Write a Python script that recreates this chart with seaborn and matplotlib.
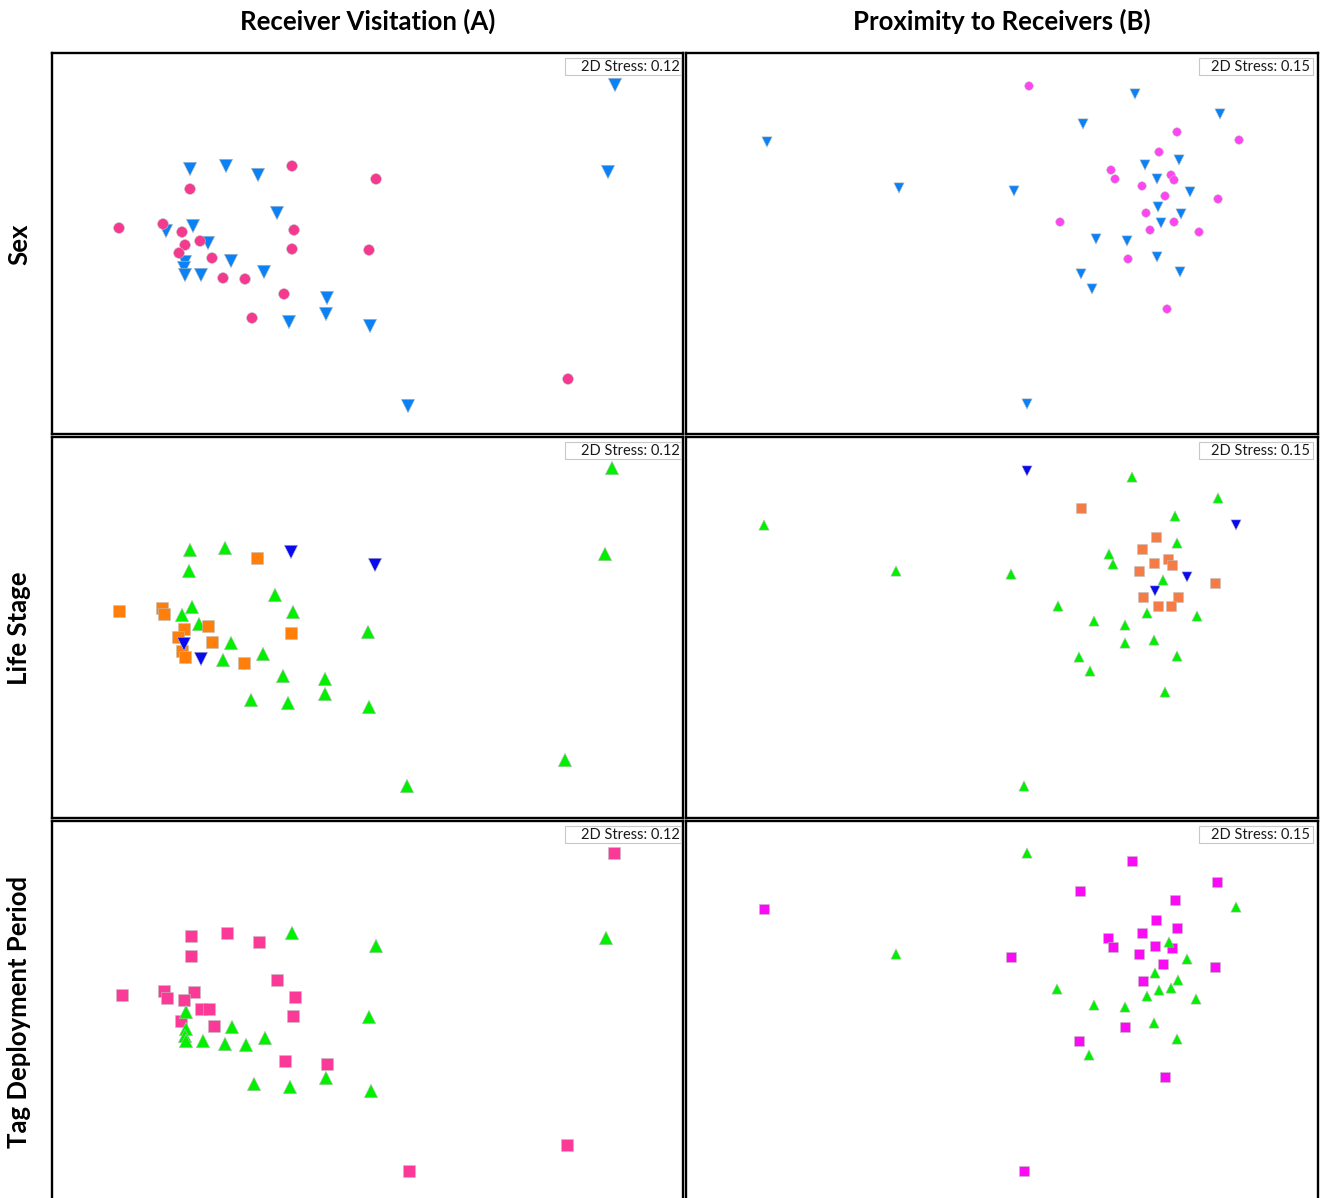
import numpy as np
import pandas as pd
import matplotlib
matplotlib.use("Agg")
import matplotlib.pyplot as plt
import seaborn as sns
from matplotlib.patches import Rectangle

# ---------------- data (nMDS ordination coordinates) ----------------
# Sex - Receiver Visitation (A)
male_A_x = [563, 556, 138, 174, 206, 225, 114, 141, 156, 179, 133, 132, 133, 149, 212, 275, 274, 237, 318, 356]
male_A_y = [32, 119, 116, 113, 122, 160, 178, 173, 190, 208, 209, 215, 222, 222, 219, 245, 261, 269, 273, 353]
female_A_x = [240, 324, 138, 67, 111, 130, 148, 133, 127, 242, 240, 317, 160, 171, 193, 232, 200, 516]
female_A_y = [113, 126, 136, 175, 171, 179, 188, 192, 200, 177, 196, 197, 205, 225, 226, 241, 265, 326]

# Sex - Proximity to Receivers (B)
male_B_x = [81, 213, 328, 397, 449, 534, 459, 493, 471, 504, 472, 495, 475, 410, 441, 471, 395, 494, 406, 341]
male_B_y = [89, 135, 138, 71, 41, 61, 112, 107, 126, 139, 154, 161, 170, 186, 188, 204, 221, 219, 236, 351]
female_B_x = [343, 491, 553, 473, 425, 429, 485, 488, 456, 479, 532, 460, 488, 464, 374, 513, 442, 481]
female_B_y = [33, 79, 87, 99, 117, 126, 122, 127, 133, 143, 146, 160, 169, 177, 169, 179, 206, 256]

# Life Stage - A
adult_A_x = [560, 553, 138, 173, 137, 223, 140, 130, 241, 147, 316, 179, 211, 171, 231, 273, 273, 199, 236, 317, 513, 355]
adult_A_y = [31, 117, 113, 111, 134, 158, 170, 178, 175, 187, 195, 206, 217, 223, 239, 242, 257, 263, 266, 270, 323, 349]
subadult_A_x = [205, 67, 110, 112, 156, 132, 126, 239, 160, 130, 133, 192]
subadult_A_y = [121, 174, 171, 177, 189, 192, 200, 196, 205, 214, 220, 226]
juvenile_A_x = [239, 323, 132, 149]
juvenile_A_y = [115, 128, 207, 222]

# Life Stage - B
adult_B_x = [78, 210, 325, 446, 532, 489, 491, 423, 427, 477, 372, 461, 511, 408, 439, 468, 439, 393, 491, 404, 479, 338]
adult_B_y = [88, 134, 137, 40, 61, 79, 106, 117, 127, 143, 169, 176, 179, 184, 188, 203, 206, 220, 219, 234, 255, 349]
subadult_B_x = [395, 470, 456, 468, 482, 486, 453, 529, 457, 492, 472, 485]
subadult_B_y = [71, 100, 112, 126, 122, 128, 134, 146, 160, 160, 169, 169]
juvenile_B_x = [341, 550, 501, 469]
juvenile_B_y = [34, 88, 140, 154]

# Tag Deployment Period - A
period1_A_x = [562, 139, 175, 207, 139, 225, 70, 112, 115, 142, 132, 243, 149, 157, 241, 129, 162, 233, 275, 515, 357]
period1_A_y = [32, 115, 112, 121, 135, 159, 174, 170, 177, 171, 179, 176, 188, 188, 195, 200, 205, 240, 243, 324, 350]
period2_A_x = [554, 240, 324, 317, 134, 134, 133, 134, 151, 180, 173, 194, 213, 274, 202, 238, 319]
period2_A_y = [117, 112, 125, 196, 191, 208, 215, 220, 220, 206, 223, 224, 217, 257, 263, 266, 270]

# Tag Deployment Period - B
period1_B_x = [78, 325, 394, 446, 531, 489, 470, 491, 456, 422, 427, 469, 486, 453, 477, 529, 457, 439, 393, 479, 338]
period1_B_y = [88, 136, 70, 40, 61, 79, 99, 107, 112, 117, 126, 125, 127, 133, 143, 146, 160, 206, 220, 256, 350]
period2_B_x = [341, 210, 550, 483, 501, 469, 492, 473, 485, 461, 510, 371, 408, 439, 468, 491, 403]
period2_B_y = [32, 133, 86, 121, 138, 152, 159, 169, 167, 175, 178, 168, 184, 186, 202, 218, 234]

col_titles = ["Receiver Visitation (A)", "Proximity to Receivers (B)"]
row_titles = ["Sex", "Life Stage", "Tag Deployment Period"]
stress_values = ["0.12", "0.15"]

# ---------------- styling ----------------
sns.set_theme(style="white")
plt.rcParams['font.family'] = ['Lato', 'DejaVu Sans']

W, H = 1320, 1198
fig = plt.figure(figsize=(W / 100, H / 100), dpi=100)
fig.patch.set_facecolor("white")

col_x = [52, 686]
col_w = [631, 632]
row_y = [53, 437, 821]
row_h = 381

panels = [
    # row 0: Sex
    [
        dict(groups=[("Male", male_A_x, male_A_y), ("Female", female_A_x, female_A_y)],
             pal={"Male": "#0A82F5", "Female": "#F5398F"},
             mk={"Male": "v", "Female": "o"},
             sz={"Male": 95, "Female": 60}),
        dict(groups=[("Male", male_B_x, male_B_y), ("Female", female_B_x, female_B_y)],
             pal={"Male": "#0A82F5", "Female": "#FF44F2"},
             mk={"Male": "v", "Female": "o"},
             sz={"Male": 55, "Female": 38}),
    ],
    # row 1: Life stage
    [
        dict(groups=[("Adult", adult_A_x, adult_A_y), ("Subadult", subadult_A_x, subadult_A_y),
                     ("Juvenile", juvenile_A_x, juvenile_A_y)],
             pal={"Adult": "#00F000", "Subadult": "#FF7F0A", "Juvenile": "#0A0AF0"},
             mk={"Adult": "^", "Subadult": "s", "Juvenile": "v"},
             sz={"Adult": 95, "Subadult": 75, "Juvenile": 95}),
        dict(groups=[("Adult", adult_B_x, adult_B_y), ("Subadult", subadult_B_x, subadult_B_y),
                     ("Juvenile", juvenile_B_x, juvenile_B_y)],
             pal={"Adult": "#00F000", "Subadult": "#F57C45", "Juvenile": "#0A0AF0"},
             mk={"Adult": "^", "Subadult": "s", "Juvenile": "v"},
             sz={"Adult": 55, "Subadult": 45, "Juvenile": 55}),
    ],
    # row 2: Tag deployment period
    [
        dict(groups=[("Period 1", period1_A_x, period1_A_y), ("Period 2", period2_A_x, period2_A_y)],
             pal={"Period 1": "#FA3A96", "Period 2": "#00F000"},
             mk={"Period 1": "s", "Period 2": "^"},
             sz={"Period 1": 75, "Period 2": 95}),
        dict(groups=[("Period 1", period1_B_x, period1_B_y), ("Period 2", period2_B_x, period2_B_y)],
             pal={"Period 1": "#FA0AF5", "Period 2": "#00F000"},
             mk={"Period 1": "s", "Period 2": "^"},
             sz={"Period 1": 45, "Period 2": 55}),
    ],
]

stress_box = [  # (x0, x1) in axes fraction, text right edge
    (0.813, 0.9968, 0.995),
    (0.8117, 0.992, 0.987),
]

for r in range(3):
    for c in range(2):
        x0, y0, w = col_x[c], row_y[r], col_w[c]
        ax = fig.add_axes([x0 / W, 1 - (y0 + row_h) / H, w / W, row_h / H])
        spec = panels[r][c]
        frames = []
        for name, gx, gy in spec["groups"]:
            frames.append(pd.DataFrame({"MDS1": gx, "MDS2": gy, "group": name}))
        df = pd.concat(frames, ignore_index=True)
        sns.scatterplot(data=df, x="MDS1", y="MDS2", hue="group", style="group",
                        size="group", palette=spec["pal"], markers=spec["mk"],
                        sizes=spec["sz"], edgecolor="#C0C0C0", linewidth=0.4,
                        legend=False, ax=ax, zorder=2)
        ax.set_xlim(0, w)
        ax.set_ylim(row_h, 0)
        ax.set_xticks([]); ax.set_yticks([])
        ax.set_xlabel(""); ax.set_ylabel("")
        for sp in ax.spines.values():
            sp.set_color("black")
            sp.set_linewidth(1.7)
        bx0, bx1, tx = stress_box[c]
        ax.add_patch(Rectangle((bx0, 0.942), bx1 - bx0, 0.987 - 0.942,
                               transform=ax.transAxes, facecolor="white",
                               edgecolor="#C8C8C8", linewidth=0.8, zorder=3))
        ax.text(tx, 0.9645, "2D Stress: " + stress_values[c], transform=ax.transAxes,
                ha="right", va="center", fontsize=10.5, color="#1A1A1A", zorder=4)

for c in range(2):
    fig.text((col_x[c] + col_w[c] / 2) / W, 1 - 21 / H, col_titles[c],
             ha="center", va="center", fontsize=18.5, fontweight="bold", color="black")

for r in range(3):
    fig.text(19 / W, 1 - (row_y[r] + 191) / H, row_titles[r], rotation=90,
             ha="center", va="center", fontsize=18.5, fontweight="bold", color="black")

fig.savefig("out.png", dpi=100, facecolor="white")
